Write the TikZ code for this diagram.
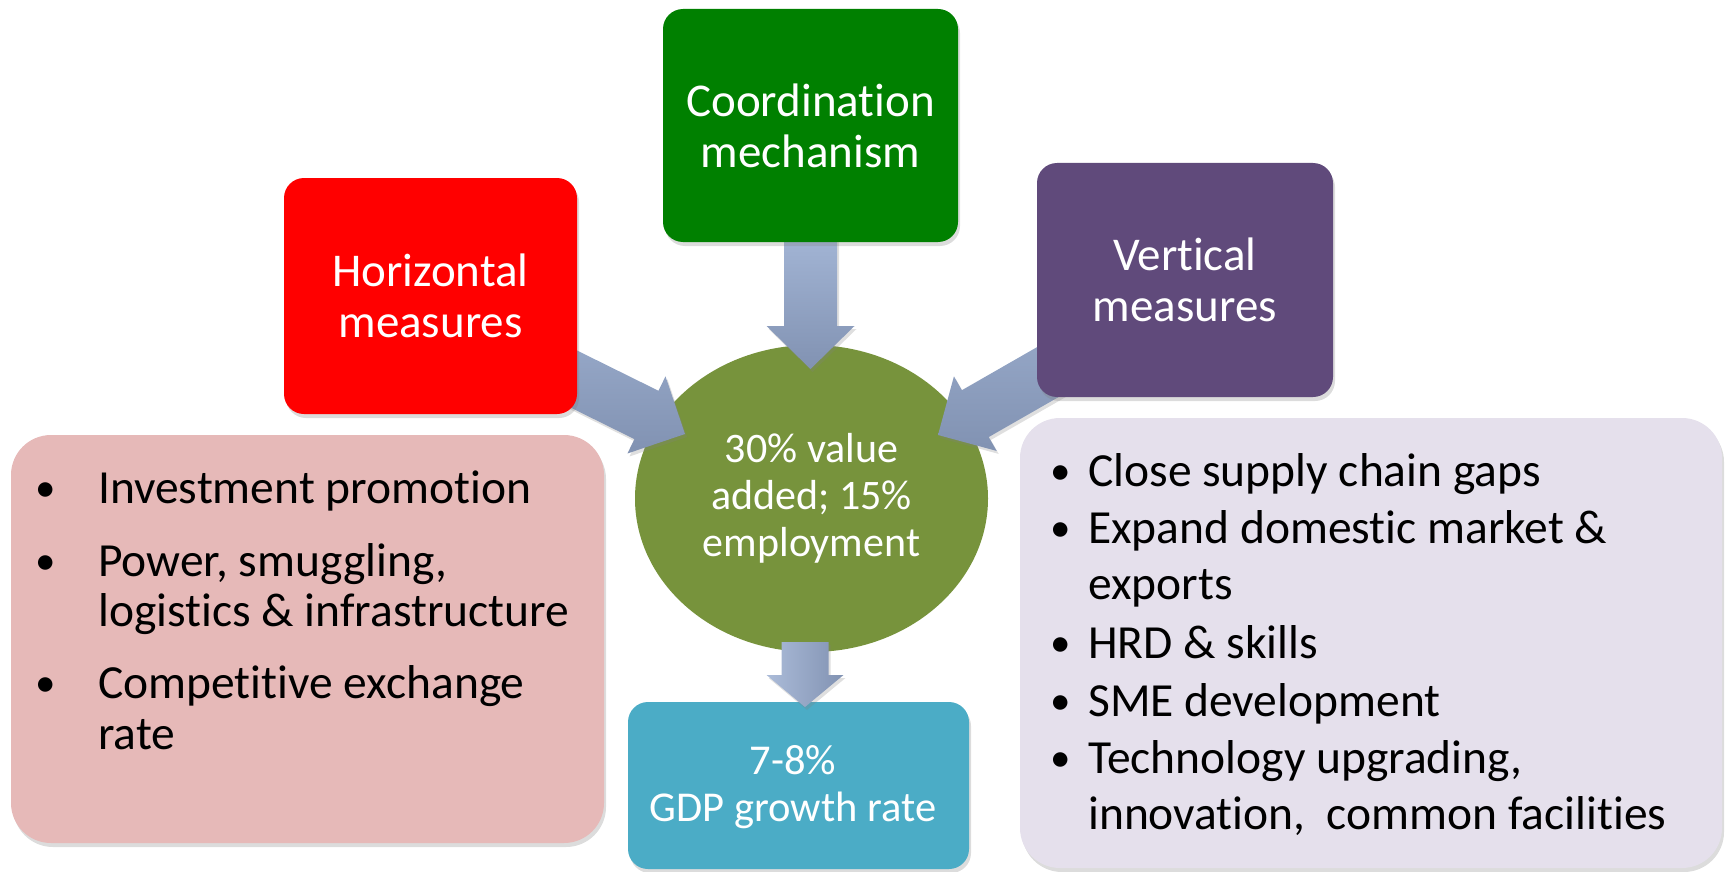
\documentclass[tikz,border=0pt]{standalone}
\usepackage{fontspec}
\setmainfont{Carlito}[Ligatures={NoCommon,NoRequired,NoContextual}, Contextuals={NoAlternate}]
\XeTeXinterchartokenstate=1
\newXeTeXintercharclass\myTclass
\newXeTeXintercharclass\myIclass
\XeTeXcharclass`t=\myTclass
\XeTeXcharclass`i=\myIclass
\XeTeXinterchartoks\myTclass\myIclass={\kern0pt }
\usetikzlibrary{calc,shapes.geometric,shadows}
\definecolor{cred}{HTML}{FF0000}
\definecolor{cgreen}{HTML}{008000}
\definecolor{cpurple}{HTML}{604A7B}
\definecolor{colive}{HTML}{77933C}
\definecolor{cpink}{HTML}{E6B9B8}
\definecolor{clav}{HTML}{E5E0EC}
\definecolor{cteal}{HTML}{4BACC6}
\definecolor{arrlight}{HTML}{A2B4D4}
\definecolor{arrdark}{HTML}{8192B2}
\pgfdeclarelayer{back}
\pgfdeclarelayer{arr}
\pgfsetlayers{back,arr,main}
\newcommand{\blockarrow}[6]{%
  \coordinate (ba-b) at ($(#2)!#5!(#1)$);
  \path[#6] ($(#1)!#3!90:(#2)$) -- ($(ba-b)!#3!-90:(#1)$) -- ($(ba-b)!#4!-90:(#1)$) -- (#2)
    -- ($(ba-b)!#4!90:(#1)$) -- ($(ba-b)!#3!90:(#1)$) -- ($(#1)!#3!-90:(#2)$) -- cycle;
}
\begin{document}
\begin{tikzpicture}[x=1pt,y=-1pt,
  softshadow/.style={drop shadow={opacity=0.28, shadow xshift=2pt, shadow yshift=-4pt}},
  titlebox/.style={rectangle, rounded corners=20pt, text=white, align=center,
    font=\fontsize{47}{51}\selectfont, softshadow},
  listbox/.style={rectangle, rounded corners=40pt, softshadow},
  listtext/.style={inner sep=0pt, text=black, font=\fontsize{47.5}{50}\selectfont},
  bullet/.style={inner sep=0pt, text=black, font=\fontsize{41}{45}\selectfont, yshift=2pt},
  arrowbody/.style={top color=arrlight, bottom color=arrdark,
    drop shadow={opacity=0.25, shadow xshift=2pt, shadow yshift=-3pt}},
  arrowbodyh/.style={left color=arrlight!90!white, right color=arrdark,
    drop shadow={opacity=0.25, shadow xshift=2pt, shadow yshift=-3pt}}]
\useasboundingbox (0,0) rectangle (1727,872);

\begin{pgfonlayer}{back}
  \node[listbox, fill=cpink, minimum width=593pt, minimum height=408pt] (pink) at (307.5,639) {};
  \node[listbox, fill=clav, minimum width=702pt, minimum height=450pt] (lav) at (1371,643) {};
  \node[titlebox, fill=cteal, minimum width=341pt, minimum height=167pt] (gdp) at (798.5,785.5) {};
  \node[text=white, align=center, font=\fontsize{42.5}{47}\selectfont] (gdptext) at (793,787) {7-8\%\\GDP growth rate};
  \node[ellipse, fill=colive, minimum width=353pt, minimum height=307pt, inner sep=0pt,
        text=white, align=center, font=\fontsize{42}{47}\selectfont] (hub) at (811.5,498.5)
        {30\% value\\added; 15\%\\employment};
\end{pgfonlayer}

% left list
\node[bullet, anchor=base] (lb1) at (46,503) {•};
\node[listtext, anchor=base west] (lt1) at (98,503) {Investment promotion};
\node[bullet, anchor=base] (lb2) at (46,576) {•};
\node[listtext, anchor=base west] (lt2) at (98,576) {Power, smuggling,};
\node[listtext, anchor=base west] (lt3) at (98,626) {logistics \& infrastructure};
\node[bullet, anchor=base] (lb3) at (46,698) {•};
\node[listtext, anchor=base west] (lt4) at (98,698) {Competitive exchange};
\node[listtext, anchor=base west] (lt5) at (98,749) {rate};

% right list
\node[bullet, anchor=base] (rb1) at (1061,486) {•};
\node[listtext, anchor=base west] (rt1) at (1088,486) {Close supply chain gaps};
\node[bullet, anchor=base] (rb2) at (1061,543) {•};
\node[listtext, anchor=base west] (rt2) at (1088,543) {Expand domestic market \&};
\node[listtext, anchor=base west] (rt3) at (1088,599) {exports};
\node[bullet, anchor=base] (rb3) at (1061,658) {•};
\node[listtext, anchor=base west] (rt4) at (1088,658) {HRD \& skills};
\node[bullet, anchor=base] (rb4) at (1061,716) {•};
\node[listtext, anchor=base west] (rt5) at (1088,716) {SME development};
\node[bullet, anchor=base] (rb5) at (1061,773) {•};
\node[listtext, anchor=base west] (rt6) at (1088,773) {Technology upgrading,};
\node[listtext, anchor=base west] (rt7) at (1088,829) {innovation,\ \ common facilities};

% title boxes
\node[titlebox, fill=cred, minimum width=293pt, minimum height=236pt] (horiz) at (430.5,296) {Horizontal\\measures};
\node[titlebox, fill=cgreen, minimum width=295pt, minimum height=233pt] (coord) at (810.5,125.5) {Coordination\\mechanism};
\node[titlebox, fill=cpurple, minimum width=296pt, minimum height=234pt] (vert) at (1185,280) {Vertical\\measures};

% block arrows
\coordinate (ltail) at (416,301);
\coordinate (ltip) at (685,434);
\coordinate (rtail) at (1198,286);
\coordinate (rtip) at (938,435);
\coordinate (ttail) at (810.5,238);
\coordinate (ttip) at (810.5,369);
\coordinate (btail) at (805,642);
\coordinate (btip) at (805,707);
\begin{pgfonlayer}{arr}
  \blockarrow{ltail}{ltip}{27pt}{43pt}{43pt}{arrowbody}
  \blockarrow{rtail}{rtip}{27pt}{43pt}{43pt}{arrowbody}
  \blockarrow{ttail}{ttip}{26.5pt}{44pt}{43pt}{arrowbody}
  \blockarrow{btail}{btip}{23.5pt}{38.5pt}{32pt}{arrowbodyh}
\end{pgfonlayer}
\end{tikzpicture}
\end{document}
